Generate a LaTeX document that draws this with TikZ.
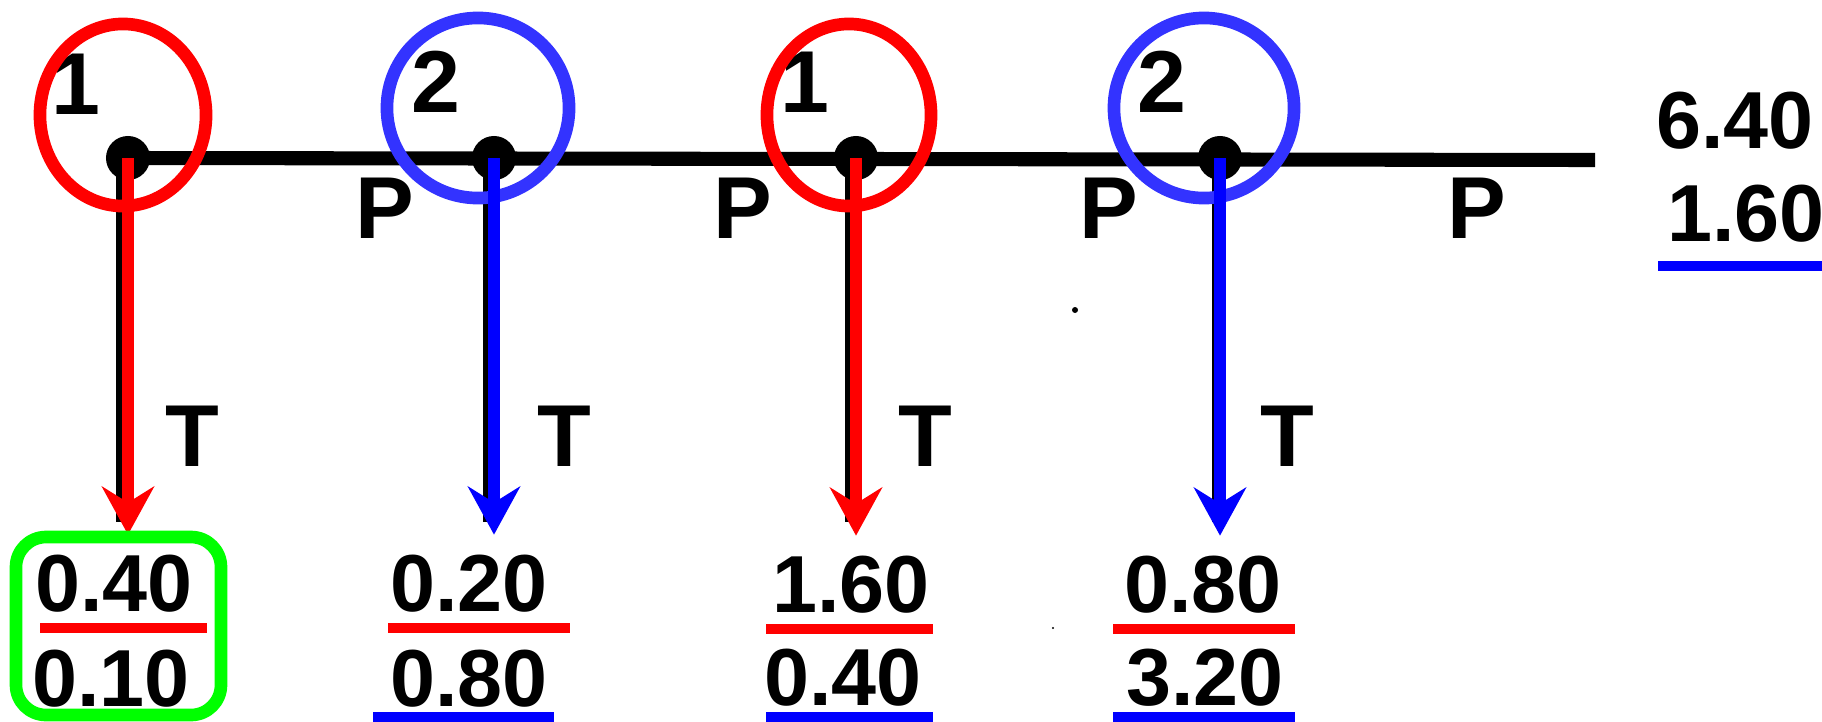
\documentclass[tikz,border=0pt]{standalone}
\usepackage{fontspec}
\setmainfont{Liberation Sans}
\usepackage{xcolor}
\usepackage{tikz}
\usetikzlibrary{arrows.meta,shapes.geometric}
\definecolor{ringblue}{RGB}{51,51,255}
\definecolor{boxgreen}{RGB}{0,255,0}
\newcommand\numfont{\bfseries\fontsize{23}{27}\selectfont}
\newcommand\tagfont{\bfseries\fontsize{25}{29}\selectfont}

\begin{document}
\begin{tikzpicture}[x=0.01cm,y=-0.01cm,
  num/.style={font=\numfont, inner sep=0.2cm},
  tag/.style={font=\tagfont, inner sep=0pt},
  dot/.style={circle, fill=black, inner sep=0pt, minimum size=0.44cm},
  ring/.style={ellipse, draw=#1, line width=3.6pt, inner sep=0pt},
  beam/.style={line width=4pt},
  stem/.style={line width=2.8pt},
  down/.style={draw=#1, line width=3.2pt, -{Stealth[length=4.8mm,width=5.2mm,inset=1.6mm]}},
  bar/.style={draw=#1, line width=3pt}]
\useasboundingbox (0,0) rectangle (1822,721);
% main line with the joints
\node[dot] (d1) at (128,158) {};
\node[dot] (d2) at (494,158) {};
\node[dot] (d3) at (856,158) {};
\node[dot] (d4) at (1220,158) {};
\coordinate (e) at (1595,160);
\draw[beam] (d1.center) -- (e);
\draw[stem] ([xshift=-0.07cm]d1.center) -- ++(0,364);
\draw[stem] ([xshift=-0.06cm]d2.center) -- ++(0,364);
\draw[stem] ([xshift=-0.06cm]d3.center) -- ++(0,364);
\draw[stem] ([xshift=-0.03cm]d4.center) -- ++(0,364);
\node[tag] (n1) at (76,84) {1};
\node[tag] (n2) at (436,82) {2};
\node[tag] (n3) at (805,82) {1};
\node[tag] (n4) at (1162,82) {2};
\node[tag] (p1) at (385,208) {P};
\node[tag] (p2) at (743,208) {P};
\node[tag] (p3) at (1109,208) {P};
\node[tag] (p4) at (1477,208) {P};
\node[tag] (t1) at (192,436) {T};
\node[tag] (t2) at (564,436) {T};
\node[tag] (t3) at (925,436) {T};
\node[tag] (t4) at (1287,436) {T};
\fill (1075,310) circle (0.03cm);
\fill (1053,628) circle (0.012cm);
% values
\node[num] (v1) at (114,584) {0.40};
\node[num] (w1) at (111,679) {0.10};
\node[num] (v2) at (469,584) {0.20};
\node[num] (w2) at (469,679) {0.80};
\node[num] (v3) at (851,585) {1.60};
\node[num] (w3) at (843,678) {0.40};
\node[num] (v4) at (1203,585) {0.80};
\node[num] (w4) at (1205,678) {3.20};
\node[num] (s1) at (1735,121) {6.40};
\node[num] (s2) at (1746,214) {1.60};
\draw[bar=red] (40,628) -- (207,628);
\draw[bar=red] (388,628) -- (570,628);
\draw[bar=red] (766,629) -- (933,629);
\draw[bar=red] (1113,629) -- (1295,629);
\draw[bar=blue] (373,717) -- (554,717);
\draw[bar=blue] (766,717) -- (933,717);
\draw[bar=blue] (1113,717) -- (1295,717);
\draw[bar=blue] (1658,266) -- (1822,266);
% marks
\node[ring=red, minimum width=1.66cm, minimum height=1.82cm] (r1) at (123,115) {};
\node[ring=ringblue, minimum width=1.82cm, minimum height=1.80cm] (r2) at (478,108) {};
\node[ring=red, minimum width=1.64cm, minimum height=1.82cm] (r3) at (849,115) {};
\node[ring=ringblue, minimum width=1.80cm, minimum height=1.80cm] (r4) at (1204,108) {};
\draw[down=red] (d1.center) -- (d1.center |- v1.north);
\draw[down=blue] (d2.center) -- (d2.center |- v2.north);
\draw[down=red] (d3.center) -- (d3.center |- v3.north);
\draw[down=blue] (d4.center) -- (d4.center |- v4.north);
\draw[draw=boxgreen, line width=3.6pt, rounded corners=0.3cm] (16,537) rectangle (221,715);
\end{tikzpicture}
\end{document}
